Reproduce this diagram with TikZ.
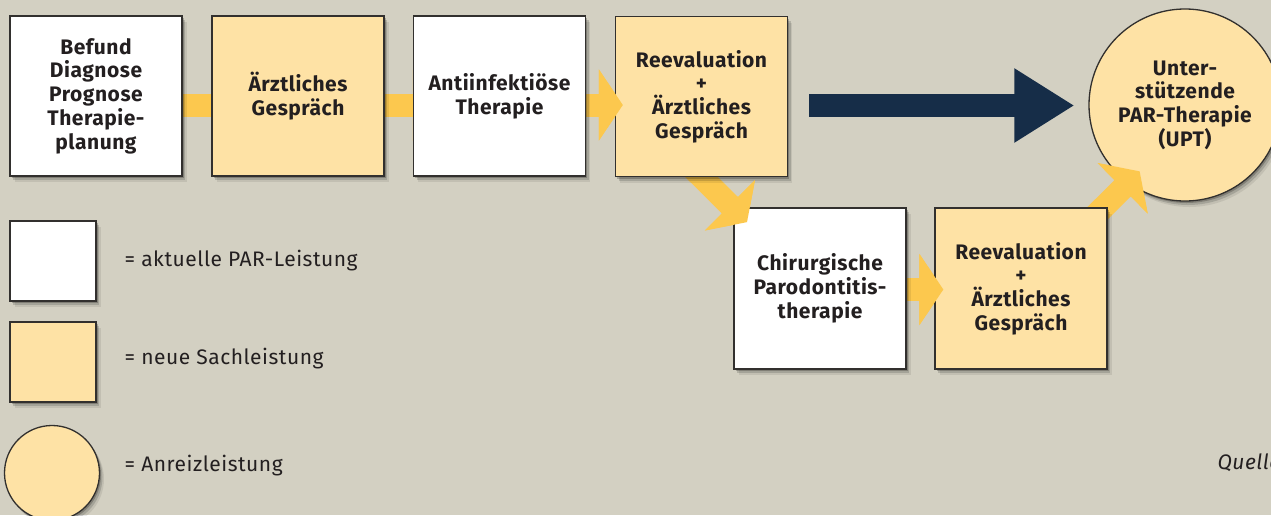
\documentclass[tikz,border=0pt]{standalone}
\usepackage{fontspec}
\setmainfont{Fira Sans}[LetterSpace=2.5]
\usetikzlibrary{arrows.meta}
\usetikzlibrary{calc}
\usetikzlibrary{positioning}
\usetikzlibrary{shadows}

\definecolor{hintergrund}{RGB}{211,208,194}
\definecolor{sachgelb}{RGB}{254,226,165}
\definecolor{pfeilgelb}{RGB}{252,200,78}
\definecolor{pfeilblau}{RGB}{22,45,72}
\definecolor{rahmen}{RGB}{50,48,46}
\definecolor{schrift}{RGB}{35,31,32}

\pgfdeclarelayer{hinten}
\pgfdeclarelayer{pfeile}
\pgfdeclarelayer{vorn}
\pgfsetlayers{hinten,pfeile,main,vorn}

\tikzset{
  weichschatten/.style={
    drop shadow={shadow xshift=1.5pt, shadow yshift=-2pt, fill=black, opacity=0.22},
    drop shadow={shadow xshift=3pt, shadow yshift=-4pt, fill=black, opacity=0.15},
    drop shadow={shadow xshift=4.5pt, shadow yshift=-6pt, fill=black, opacity=0.08}},
  leistung/.style={draw=rahmen, line width=1.3pt, text=schrift, align=center,
    font=\fontsize{21}{23.7}\selectfont\bfseries, weichschatten},
  aktuell/.style={leistung, fill=white, minimum width=172pt, minimum height=160pt},
  sachleistung/.style={leistung, fill=sachgelb, minimum width=172pt, minimum height=160pt},
  anreiz/.style={leistung, circle, fill=sachgelb, minimum size=192pt, inner sep=0pt},
  legende/.style={text=schrift, font=\fontsize{21}{24}\selectfont, anchor=west},
  gelbpfeil/.style={draw=pfeilgelb, line width=23pt, -{Triangle[length=24pt, width=70pt]}},
  blaupfeil/.style={draw=pfeilblau, line width=23pt, -{Triangle[length=60pt, width=70pt]}}
}

\begin{document}
\begin{tikzpicture}[x=1pt, y=-1pt]
  % Hintergrund
  \begin{pgfonlayer}{hinten}
    \fill[hintergrund] (0,0) rectangle (1271,515);
  \end{pgfonlayer}
  \useasboundingbox (0,0) rectangle (1271,515);

  % obere Reihe
  \node[aktuell] (befund) at (96,96) {Befund\\Diagnose\\Prognose\\Therapie-\\planung};
  \node[sachleistung] (gespraech) at (298,96) {Ärztliches\\Gespräch};
  \node[aktuell] (antiinf) at (499.5,96) {Antiinfektiöse\\Therapie};
  \node[sachleistung] (reeval) at (701.5,96.5) {Reevaluation\\+\\Ärztliches\\Gespräch};
  % UPT
  \node[anreiz] (upt) at (1185,105) {Unter-\\stützende\\PAR-Therapie\\(UPT)};
  % untere Reihe
  \node[aktuell, minimum height=161pt] (chirurg) at (820,288.5) {Chirurgische\\Parodontitis-\\therapie};
  \node[sachleistung, minimum height=161pt] (reeval2) at (1021,288.5) {Reevaluation\\+\\Ärztliches\\Gespräch};

  % Pfeile hinter den Kaesten
  \coordinate (t12) at ($(gespraech.west)+(24,9.5)$);
  \coordinate (t23) at ($(antiinf.west)+(24,9.5)$);
  \coordinate (s34) at ($(antiinf.east)+(0,9)$);
  \coordinate (t34) at ($(reeval.west)+(8,8.5)$);
  \coordinate (s45) at ($(reeval.south)+(-25,-25)$);
  \coordinate (t45) at ($(reeval.south)+(45.5,45)$);
  \coordinate (s56) at ($(chirurg.east)+(0,1)$);
  \coordinate (t56) at ($(reeval2.west)+(9,1)$);
  \coordinate (s6u) at ($(reeval2.north east)+(-38,33.5)$);
  \coordinate (t6u) at ($(reeval2.north east)+(32,-36)$);
  \begin{pgfonlayer}{pfeile}
    \draw[gelbpfeil] ($(befund.east)+(0,9.5)$) -- (t12);
    \draw[gelbpfeil] ($(gespraech.east)+(0,9.5)$) -- (t23);
    \draw[gelbpfeil] (s34) -- (t34);
    \draw[gelbpfeil] (s45) -- (t45);
    \draw[gelbpfeil] (s56) -- (t56);
    \draw[gelbpfeil] (s6u) -- (t6u);
    % Reevaluation nach UPT
    \draw[blaupfeil] ($(reeval.east)+(21,9)$) -- ($(upt.west)+(-14,0.5)$);
  \end{pgfonlayer}

  % Pfeilspitzen ueber den Kaesten
  \begin{pgfonlayer}{vorn}
    \draw[gelbpfeil] ($(t34)!25pt!(s34)$) -- (t34);
    \draw[gelbpfeil] ($(t45)!25pt!(s45)$) -- (t45);
    \draw[gelbpfeil] ($(t56)!25pt!(s56)$) -- (t56);
    \draw[gelbpfeil] ($(t6u)!25pt!(s6u)$) -- (t6u);
  \end{pgfonlayer}

  % Legende
  \node[aktuell, minimum width=86pt, minimum height=80pt] (lgweiss) at (53,261) {};
  \node[legende, right=24.5pt of lgweiss] (lgtext1) {= aktuelle PAR-Leistung};
  \node[sachleistung, minimum width=86pt, minimum height=80pt] (lggelb) at (53,362) {};
  \node[legende, right=24.5pt of lggelb, yshift=3pt] (lgtext2) {= neue Sachleistung};
  \node[anreiz, minimum size=95pt] (lgkreis) at (52,473) {};
  \node[legende, right=21pt of lgkreis, yshift=7pt] (lgtext3) {= Anreizleistung};

  % Quelle
  \node[legende, font=\fontsize{21}{24}\selectfont\itshape] (quelle) at (1214,463) {Quelle};
\end{tikzpicture}
\end{document}
